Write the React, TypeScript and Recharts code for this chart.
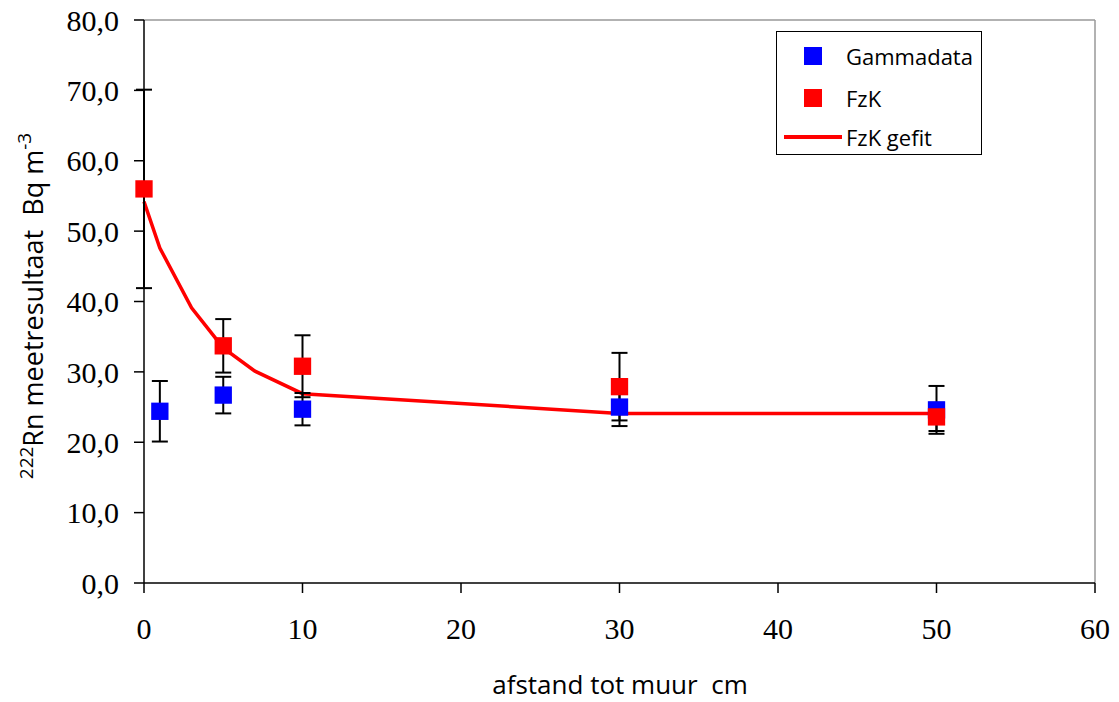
import React from 'react';
import {
  ComposedChart, Scatter, Line, XAxis, YAxis, ZAxis, ErrorBar, ReferenceLine,
} from 'recharts';

const gammaX = [1, 5, 10, 30, 50];
const gammaY = [24.4, 26.7, 24.7, 25.0, 24.6];
const gammaErr = [4.3, 2.6, 2.3, 2.7, 3.4];

const fzkX = [0, 5, 10, 30, 50];
const fzkY = [56.0, 33.7, 30.8, 27.9, 23.6];
const fzkErr = [14.1, 3.8, 4.4, 4.8, 2.0];

const fitX = [0, 1, 3, 5, 7, 10, 30, 50];
const fitY = [54.2, 47.6, 39.1, 33.4, 30.1, 26.9, 24.1, 24.1];

const xTicks = [0, 10, 20, 30, 40, 50, 60];
const yTicks = [0, 10, 20, 30, 40, 50, 60, 70, 80];

const legendLabels = ['Gammadata', 'FzK', 'FzK gefit'];

const gammaData = gammaX.map((x, i) => ({ x, y: gammaY[i], err: gammaErr[i] }));
const fzkData = fzkX.map((x, i) => ({ x, y: fzkY[i], err: fzkErr[i] }));
const fitData = fitX.map((x, i) => ({ x, y: fitY[i] }));

const tickFont = { fontFamily: '"Liberation Serif", "Times New Roman", serif', fontSize: 30, fill: '#000' };
const sansFont = '"Open Sans", "Noto Sans", sans-serif';

const LegendBox = () => (
  <div
    style={{
      position: 'absolute',
      left: 776,
      top: 31,
      width: 206,
      height: 124,
      border: '1px solid #000',
      background: '#fff',
      boxSizing: 'border-box',
      fontFamily: sansFont,
      fontSize: 22,
      color: '#000',
    }}
  >
    <div style={{ position: 'absolute', left: 27, top: 15, width: 18, height: 18, background: '#0000ff' }} />
    <div style={{ position: 'absolute', left: 69, top: 9, lineHeight: '30px' }}>{legendLabels[0]}</div>
    <div style={{ position: 'absolute', left: 27, top: 57, width: 18, height: 18, background: '#ff0000' }} />
    <div style={{ position: 'absolute', left: 69, top: 51, lineHeight: '30px' }}>{legendLabels[1]}</div>
    <div style={{ position: 'absolute', left: 7, top: 103, width: 58, height: 4, background: '#ff0000' }} />
    <div style={{ position: 'absolute', left: 69, top: 90, lineHeight: '30px' }}>{legendLabels[2]}</div>
  </div>
);

export default function App() {
  return (
    <div style={{ position: 'absolute', left: 0, top: 0, width: 1119, height: 702, background: '#fff' }}>
      <ComposedChart
        width={1119}
        height={702}
        margin={{ top: 20, right: 24, bottom: 59, left: 0 }}
      >
        <XAxis
          dataKey="x"
          type="number"
          domain={[0, 60]}
          ticks={xTicks}
          height={60}
          tick={tickFont}
          tickSize={10}
          tickMargin={25}
          axisLine={{ stroke: '#000', strokeWidth: 1.5 }}
          tickLine={{ stroke: '#000', strokeWidth: 1.5 }}
        />
        <YAxis
          dataKey="y"
          type="number"
          domain={[0, 80]}
          ticks={yTicks}
          width={144}
          tick={tickFont}
          tickSize={10}
          tickMargin={15}
          tickFormatter={(v: number) => v.toFixed(1).replace('.', ',')}
          axisLine={{ stroke: '#000', strokeWidth: 1.5 }}
          tickLine={{ stroke: '#000', strokeWidth: 1.5 }}
        />
        <ZAxis range={[300, 300]} />
        <ReferenceLine y={80} stroke="#999" strokeWidth={1.5} />
        <ReferenceLine x={60} stroke="#999" strokeWidth={1.5} />
        <Line
          data={fitData}
          dataKey="y"
          type="linear"
          stroke="#ff0000"
          strokeWidth={3.5}
          dot={false}
          activeDot={false}
          isAnimationActive={false}
        />
        <Scatter data={gammaData} dataKey="y" fill="#0000ff" shape="square" isAnimationActive={false}>
          <ErrorBar dataKey="err" direction="y" width={8} stroke="#000" strokeWidth={2} />
        </Scatter>
        <Scatter data={fzkData} dataKey="y" fill="#ff0000" shape="square" isAnimationActive={false}>
          <ErrorBar dataKey="err" direction="y" width={8} stroke="#000" strokeWidth={2} />
        </Scatter>
        <text
          x={620}
          y={694}
          textAnchor="middle"
          fontFamily={sansFont}
          fontSize={26}
          fill="#000"
          style={{ whiteSpace: 'pre' }}
        >
          {'afstand tot muur  cm'}
        </text>
        <text
          transform="translate(43, 306) rotate(-90)"
          textAnchor="middle"
          fontFamily={sansFont}
          fontSize={27}
          fill="#000"
          style={{ whiteSpace: 'pre' }}
        >
          <tspan fontSize={19} dy={-10}>222</tspan>
          <tspan dy={10}>{'Rn meetresultaat  Bq m'}</tspan>
          <tspan fontSize={19} dy={-12}>-3</tspan>
        </text>
      </ComposedChart>
      <LegendBox />
    </div>
  );
}
